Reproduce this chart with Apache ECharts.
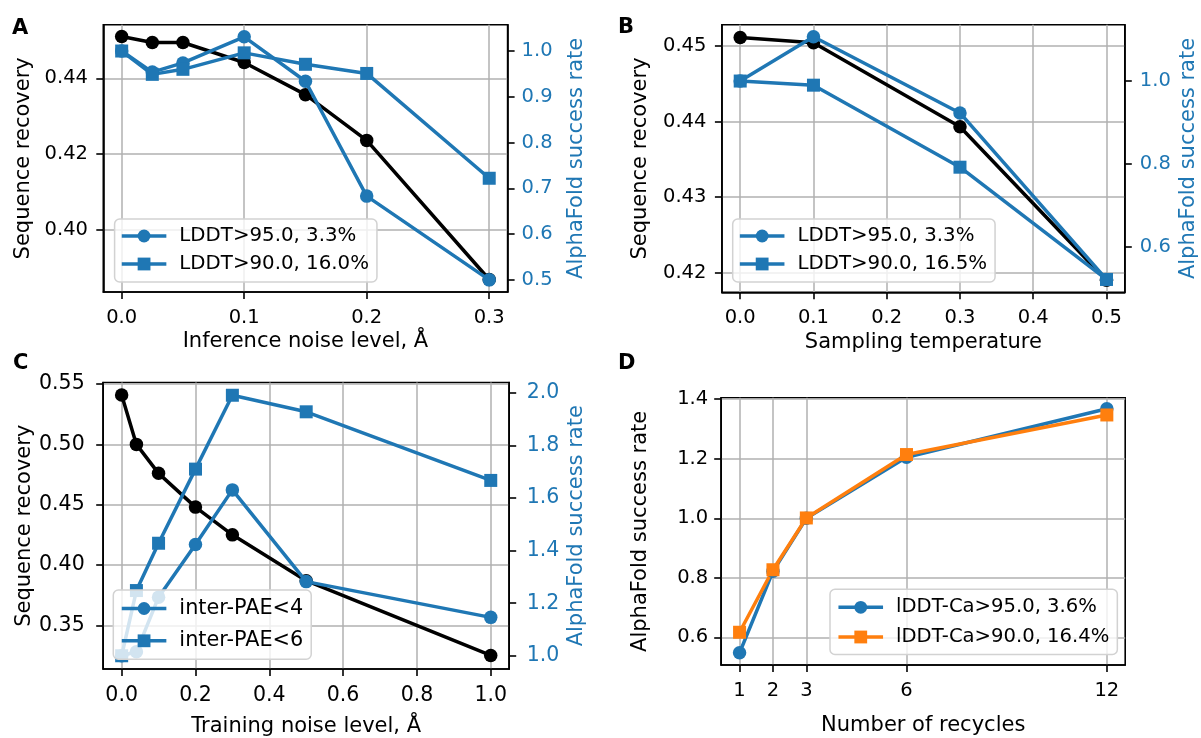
<!DOCTYPE html>
<html><head><meta charset="utf-8">
<script src="https://cdn.jsdelivr.net/npm/echarts@6/dist/echarts.min.js"></script>
<style>html,body{margin:0;padding:0;background:#fff}#c{width:1201px;height:738px}</style>
</head><body><div id="c"></div>
<script>
// ---- Panel A: inference noise ----
const aNoise = [0.0, 0.025, 0.05, 0.1, 0.15, 0.2, 0.3];
const aRecovery = [0.4511, 0.4495, 0.4495, 0.4442, 0.4357, 0.4236, 0.3868];
const aLddt95 = [1.0, 0.954, 0.974, 1.031, 0.934, 0.683, 0.5];
const aLddt90 = [1.0, 0.949, 0.960, 0.996, 0.971, 0.951, 0.722];
const aNames = ['LDDT>95.0, 3.3%', 'LDDT>90.0, 16.0%'];
const aXTicks = [0.0, 0.1, 0.2, 0.3];
const aYTicks = [0.40, 0.42, 0.44];
const aY2Ticks = [0.5, 0.6, 0.7, 0.8, 0.9, 1.0];
// ---- Panel B: sampling temperature ----
const bTemp = [0.0, 0.1, 0.3, 0.5];
const bRecovery = [0.4511, 0.4504, 0.4393, 0.4190];
const bLddt95 = [1.0, 1.107, 0.923, 0.521];
const bLddt90 = [1.0, 0.990, 0.792, 0.521];
const bNames = ['LDDT>95.0, 3.3%', 'LDDT>90.0, 16.5%'];
const bXTicks = [0.0, 0.1, 0.2, 0.3, 0.4, 0.5];
const bYTicks = [0.42, 0.43, 0.44, 0.45];
const bY2Ticks = [0.6, 0.8, 1.0];
// ---- Panel C: training noise ----
const cNoise = [0.0, 0.04, 0.1, 0.2, 0.3, 0.5, 1.0];
const cRecovery = [0.541, 0.500, 0.476, 0.448, 0.425, 0.387, 0.325];
const cPae4 = [1.0, 1.015, 1.223, 1.423, 1.631, 1.282, 1.146];
const cPae6 = [1.0, 1.248, 1.428, 1.710, 1.991, 1.928, 1.667];
const cNames = ['inter-PAE<4', 'inter-PAE<6'];
const cXTicks = [0.0, 0.2, 0.4, 0.6, 0.8, 1.0];
const cYTicks = [0.35, 0.40, 0.45, 0.50, 0.55];
const cY2Ticks = [1.0, 1.2, 1.4, 1.6, 1.8, 2.0];
// ---- Panel D: recycles ----
const dRecycles = [1, 2, 3, 6, 12];
const dLddt95 = [0.548, 0.822, 1.0, 1.205, 1.368];
const dLddt90 = [0.617, 0.827, 1.001, 1.214, 1.347];
const dNames = ['lDDT-Ca>95.0, 3.6%', 'lDDT-Ca>90.0, 16.4%'];
const dXTicks = [1, 2, 3, 6, 12];
const dYTicks = [0.6, 0.8, 1.0, 1.2, 1.4];

const FONT = 'DejaVu Sans';
const BLUE = '#1f77b4', ORANGE = '#ff7f0e', BLACK = '#000000';
const LW = 3.5;

function fmt(d) { return v => Number(v).toFixed(d); }

function axis(o) {
  return {
    type: 'value', gridIndex: o.grid, position: o.position,
    min: o.min, max: o.max,
    name: o.name, nameLocation: 'middle', nameGap: o.nameGap,
    nameTextStyle: { fontFamily: FONT, fontSize: o.nameSize || 21, color: o.color || BLACK },
    axisLine: { show: true, onZero: false, lineStyle: { color: BLACK, width: 1.6 } },
    axisTick: { show: true, length: 7, customValues: o.ticks, lineStyle: { color: BLACK, width: 1.6 } },
    axisLabel: { customValues: o.ticks, formatter: fmt(o.dec), fontFamily: FONT,
      fontSize: o.size || 19.5, color: o.color || BLACK, margin: o.margin },
    splitLine: { show: !!o.split, lineStyle: { color: '#b0b0b0', width: 1.5 } }
  };
}

function line(name, xs, ys, xi, yi, color, symbol, z) {
  return {
    type: 'line', name: name, xAxisIndex: xi, yAxisIndex: yi,
    data: xs.map((x, i) => [x, ys[i]]),
    symbol: symbol, symbolSize: symbol === 'circle' ? 13.5 : 13,
    showAllSymbol: true, clip: false, z: z,
    lineStyle: { color: color, width: LW },
    itemStyle: { color: color, borderWidth: 0 },
    emphasis: { disabled: true }, animation: false
  };
}

function legend(names, left, top, size, lineH, gap, pad) {
  return {
    data: names, orient: 'vertical', left: left, top: top,
    itemWidth: 44.6, itemHeight: 16, itemGap: gap, padding: pad,
    backgroundColor: 'rgba(255,255,255,0.8)', borderColor: '#d2d2d2',
    borderWidth: 1.5, borderRadius: 5, selectedMode: false,
    lineStyle: { width: LW },
    textStyle: { fontFamily: FONT, fontSize: size, color: BLACK, lineHeight: lineH, padding: [0, 0, 0, 8] }
  };
}

const gridStyle = { show: true, borderColor: BLACK, borderWidth: 1.6, backgroundColor: 'transparent', containLabel: false };

const option = {
  animation: false,
  backgroundColor: '#ffffff',
  grid: [
    Object.assign({ left: 103.3, top: 24.7, width: 404.3, height: 267.3 }, gridStyle),
    Object.assign({ left: 721.9, top: 24.7, width: 402.9, height: 267.6 }, gridStyle),
    Object.assign({ left: 103.2, top: 382.5, width: 406, height: 287.5 }, gridStyle),
    Object.assign({ left: 721.2, top: 397.7, width: 404, height: 267.3 }, gridStyle)
  ],
  xAxis: [
    axis({ grid: 0, position: 'bottom', min: -0.015, max: 0.315, ticks: aXTicks, dec: 1, margin: 16,
      name: 'Inference noise level, Å', nameGap: 39.5, split: true }),
    axis({ grid: 1, position: 'bottom', min: -0.025, max: 0.525, ticks: bXTicks, dec: 1, margin: 16,
      name: 'Sampling temperature', nameGap: 39.5, split: true }),
    axis({ grid: 2, position: 'bottom', min: -0.05, max: 1.05, ticks: cXTicks, dec: 1, margin: 16.5, size: 20.5,
      name: 'Training noise level, Å', nameGap: 47, split: true }),
    axis({ grid: 3, position: 'bottom', min: 0.45, max: 12.55, ticks: dXTicks, dec: 0, margin: 15.5,
      name: 'Number of recycles', nameGap: 50.5, split: true })
  ],
  yAxis: [
    axis({ grid: 0, position: 'left', min: 0.3835, max: 0.4542, ticks: aYTicks, dec: 2, margin: 15.3,
      name: 'Sequence recovery', nameGap: 69, split: true }),
    axis({ grid: 0, position: 'right', min: 0.4735, max: 1.0575, ticks: aY2Ticks, dec: 1, margin: 14,
      name: 'AlphaFold success rate', nameGap: 58.5, color: BLUE }),
    axis({ grid: 1, position: 'left', min: 0.4174, max: 0.4528, ticks: bYTicks, dec: 2, margin: 15.5,
      name: 'Sequence recovery', nameGap: 71, split: true }),
    axis({ grid: 1, position: 'right', min: 0.490, max: 1.136, ticks: bY2Ticks, dec: 1, margin: 15,
      name: 'AlphaFold success rate', nameGap: 53.7, color: BLUE }),
    axis({ grid: 2, position: 'left', min: 0.3138, max: 0.5513, ticks: cYTicks, dec: 2, margin: 18.5, size: 20.5,
      name: 'Sequence recovery', nameGap: 68, split: true }),
    axis({ grid: 2, position: 'right', min: 0.9496, max: 2.0395, ticks: cY2Ticks, dec: 1, margin: 17.5, size: 20.5,
      name: 'AlphaFold success rate', nameGap: 56.5, color: BLUE }),
    axis({ grid: 3, position: 'left', min: 0.507, max: 1.405, ticks: dYTicks, dec: 1, margin: 13,
      name: 'AlphaFold success rate', nameGap: 69.7, split: true })
  ],
  legend: [
    legend(aNames, 114.6, 219, 19.8, 22, 6, [6, 8, 7, 5.4]),
    legend(bNames, 732.7, 219, 19.8, 22, 6, [6, 8, 7, 5.4]),
    legend(cNames, 113.3, 590, 20.8, 23, 9.3, [7, 8, 7, 6.7]),
    legend(dNames, 830, 589.3, 19.6, 22, 7.7, [7, 8, 6.5, 6.7])
  ],
  series: [
    line('Sequence recovery A', aNoise, aRecovery, 0, 0, BLACK, 'circle', 2),
    line(aNames[0], aNoise, aLddt95, 0, 1, BLUE, 'circle', 3),
    line(aNames[1], aNoise, aLddt90, 0, 1, BLUE, 'rect', 3),
    line('Sequence recovery B', bTemp, bRecovery, 1, 2, BLACK, 'circle', 2),
    line(bNames[0], bTemp, bLddt95, 1, 3, BLUE, 'circle', 3),
    line(bNames[1], bTemp, bLddt90, 1, 3, BLUE, 'rect', 3),
    line('Sequence recovery C', cNoise, cRecovery, 2, 4, BLACK, 'circle', 2),
    line(cNames[0], cNoise, cPae4, 2, 5, BLUE, 'circle', 3),
    line(cNames[1], cNoise, cPae6, 2, 5, BLUE, 'rect', 3),
    line(dNames[0], dRecycles, dLddt95, 3, 6, BLUE, 'circle', 3),
    line(dNames[1], dRecycles, dLddt90, 3, 6, ORANGE, 'rect', 3)
  ],
  graphic: [
    { type: 'text', left: 12, top: 18, style: { text: 'A', fontFamily: FONT, fontWeight: 'bold', fontSize: 21, fill: BLACK } },
    { type: 'text', left: 618, top: 17, style: { text: 'B', fontFamily: FONT, fontWeight: 'bold', fontSize: 21, fill: BLACK } },
    { type: 'text', left: 13, top: 353, style: { text: 'C', fontFamily: FONT, fontWeight: 'bold', fontSize: 21, fill: BLACK } },
    { type: 'text', left: 618, top: 353, style: { text: 'D', fontFamily: FONT, fontWeight: 'bold', fontSize: 21, fill: BLACK } }
  ]
};

const chart = echarts.init(document.getElementById('c'), null, { renderer: 'canvas' });
chart.setOption(option);
</script>
</body></html>
